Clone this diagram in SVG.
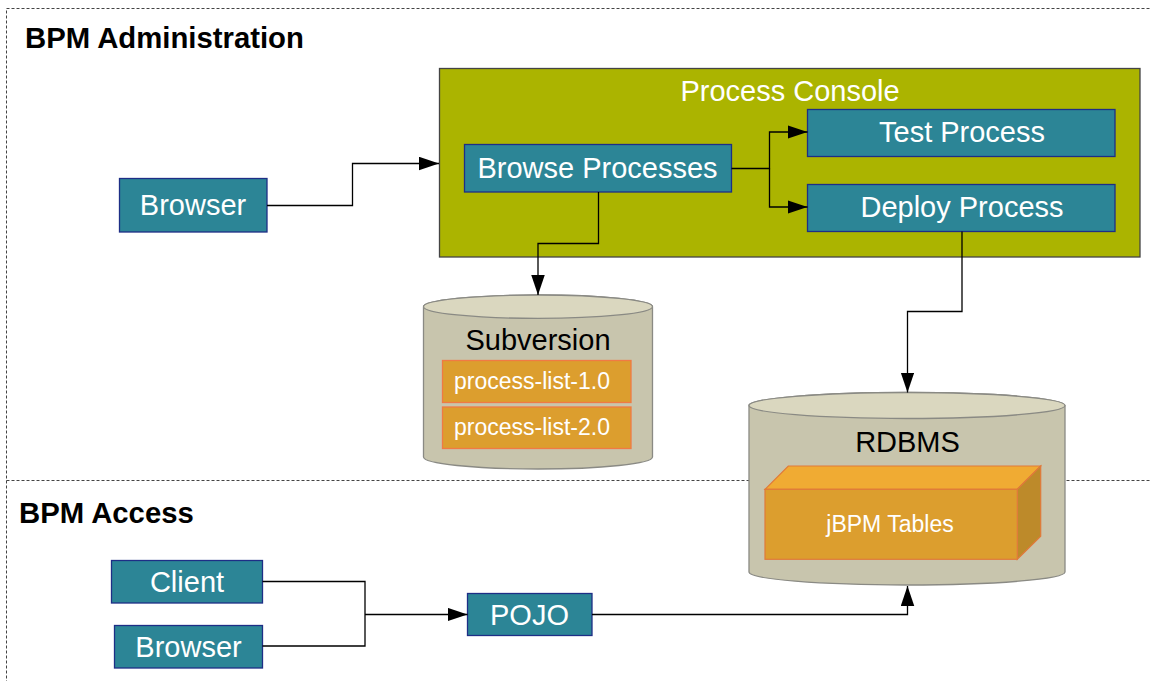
<svg xmlns="http://www.w3.org/2000/svg" width="1151" height="681" viewBox="0 0 1151 681">
<style>
.sec{fill:none;stroke:#444;stroke-width:1;stroke-dasharray:3 2}
.title{font-family:"Liberation Sans",Arial,sans-serif;font-weight:bold;font-size:29.3px;fill:#000}
.box{fill:#2c8596;stroke:#1e2e86;stroke-width:1.3}
.lbl{font-family:"Liberation Sans",Arial,sans-serif;font-size:29px;fill:#fff;text-anchor:middle}
.dbl{font-family:"Liberation Sans",Arial,sans-serif;font-size:29px;fill:#000;text-anchor:middle}
.small{font-family:"Liberation Sans",Arial,sans-serif;font-size:23px;fill:#fff}
.cylb{fill:#c8c5ad;stroke:#8a8a84;stroke-width:1.3}
.cylt{fill:#dad7bf;stroke:#8a8a84;stroke-width:1.3}
.item{fill:#dc9e2e;stroke:#f07a44;stroke-width:1.3}
.conn{fill:none;stroke:#000;stroke-width:1.3}
</style>
<defs>
<marker id="arr" markerUnits="userSpaceOnUse" markerWidth="21" markerHeight="14" refX="20" refY="6.75" orient="auto">
<path d="M0,0 L20,6.75 L0,13.5 Z" fill="#000"/>
</marker>
</defs>
<rect width="1151" height="681" fill="#fff"/>

<g id="sections">
<rect class="sec" x="6.5" y="8.5" width="1200" height="700"/>
<line class="sec" x1="6.5" y1="480.5" x2="1151" y2="480.5" stroke="#666"/>
<text class="title" x="25" y="48">BPM Administration</text>
<text class="title" x="19" y="523">BPM Access</text>
</g>

<g id="process-console">
<rect x="439.5" y="68.5" width="700.5" height="188.5" fill="#abb400" stroke="#444" stroke-width="1.3"/>
<text class="lbl" x="790" y="100.5">Process Console</text>
</g>

<g id="browser-admin">
<rect class="box" x="119.5" y="178.5" width="147.5" height="53.5"/>
<text class="lbl" x="193" y="215">Browser</text>
</g>

<g id="browse-processes">
<rect class="box" x="464.5" y="144.5" width="267" height="47.5"/>
<text class="lbl" x="597.5" y="178">Browse Processes</text>
</g>

<g id="test-process">
<rect class="box" x="807.5" y="109.5" width="307.5" height="47"/>
<text class="lbl" x="962" y="141.5">Test Process</text>
</g>

<g id="deploy-process">
<rect class="box" x="807.5" y="184.5" width="307.5" height="47"/>
<text class="lbl" x="962" y="216.5">Deploy Process</text>
</g>

<g id="subversion">
<path class="cylb" d="M423.5,306.7 A114.5,11.7 0 0 1 652.5,306.7 L652.5,457 A114.5,12 0 0 1 423.5,457 Z"/>
<ellipse class="cylt" cx="538" cy="306.7" rx="114.5" ry="11.7"/>
<text class="dbl" x="538" y="350">Subversion</text>
<rect class="item" x="442.5" y="360.5" width="188.5" height="42"/>
<text class="small" x="454" y="388.5">process-list-1.0</text>
<rect class="item" x="442.5" y="407" width="188.5" height="41.5"/>
<text class="small" x="454" y="435">process-list-2.0</text>
</g>

<g id="rdbms">
<path class="cylb" d="M749,405.5 A158,13 0 0 1 1065,405.5 L1065,572 A158,13 0 0 1 749,572 Z"/>
<ellipse class="cylt" cx="907" cy="405.5" rx="158" ry="13"/>
<text class="dbl" x="907.5" y="451.5">RDBMS</text>
<g id="jbpm-tables">
<path d="M765,489.3 L788.3,466 L1040.7,466 L1017.3,489.3 Z" fill="#f0ab33" stroke="#e07a3a" stroke-width="1.2"/>
<path d="M1017.3,489.3 L1040.7,466 L1040.7,536.3 L1017.3,559.3 Z" fill="#bd8a2a" stroke="#e07a3a" stroke-width="1.2"/>
<rect x="765" y="489.3" width="252.3" height="70" fill="#dc9e2e" stroke="#e07a3a" stroke-width="1.2"/>
<text class="small" x="890" y="531.5" text-anchor="middle">jBPM Tables</text>
</g>
</g>

<g id="client">
<rect class="box" x="111.5" y="560.5" width="151" height="42.5"/>
<text class="lbl" x="187" y="591.5">Client</text>
</g>

<g id="browser-access">
<rect class="box" x="114.5" y="625.5" width="148" height="42.5"/>
<text class="lbl" x="188.5" y="656.5">Browser</text>
</g>

<g id="pojo">
<rect class="box" x="467.5" y="593.5" width="124.5" height="42"/>
<text class="lbl" x="529.5" y="624.5">POJO</text>
</g>

<g id="connectors">
<path class="conn" d="M267,205.5 H352.5 V163.5 H439" marker-end="url(#arr)"/>
<path class="conn" d="M731.5,168.5 H769.5 V132 H807.5" marker-end="url(#arr)"/>
<path class="conn" d="M769.5,168.5 V207 H807.5" marker-end="url(#arr)"/>
<path class="conn" d="M598.5,192 V243.5 H538 V295" marker-end="url(#arr)"/>
<path class="conn" d="M962,231.5 V311.5 H907.5 V392.5" marker-end="url(#arr)"/>
<path class="conn" d="M262.5,581.5 H365 V646 H262.5"/>
<path class="conn" d="M365,614.5 H467.5" marker-end="url(#arr)"/>
<path class="conn" d="M592,614.5 H907.5 V586" marker-end="url(#arr)"/>
</g>
</svg>
